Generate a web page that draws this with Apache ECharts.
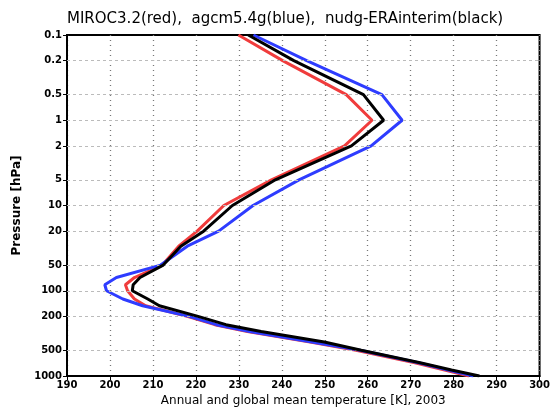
<!DOCTYPE html>
<html>
<head>
<meta charset="utf-8">
<script src="https://cdn.jsdelivr.net/npm/echarts@6/dist/echarts.min.js"></script>
<style>
  html, body { margin: 0; padding: 0; background: #fff; }
  #chart { width: 553px; height: 412px; }
</style>
</head>
<body>
<div id="chart"></div>
<script>
// pressure levels [hPa], top of the atmosphere first
const pressureLevels = [0.1, 0.2, 0.5, 1, 2, 5, 10, 20, 30, 50, 70, 85, 100, 125, 150, 200, 250, 300, 400, 500, 700, 850, 1000]
// MIROC3.2 (red)
const redTemp = [229.9, 240.2, 255.0, 261.0, 254.6, 237.6, 226.5, 220.3, 216.0, 212.2, 205.7, 203.6, 204.1, 205.7, 208.3, 218.0, 224.4, 232.0, 246.6, 257.3, 271.0, 277.9, 283.6]
// agcm5.4g (blue)
const blueTemp = [233.4, 245.8, 263.3, 268.0, 260.8, 244.0, 233.3, 225.3, 218.0, 211.8, 201.5, 198.8, 199.2, 203.0, 207.6, 218.4, 224.8, 232.5, 247.0, 258.2, 271.8, 278.7, 284.6]
// nudg-ERAinterim (black)
const blackTemp = [232.2, 242.8, 259.0, 263.7, 256.2, 238.5, 228.5, 221.8, 216.5, 212.4, 207.0, 205.4, 205.2, 208.8, 211.5, 220.5, 227.0, 235.2, 249.9, 258.5, 272.2, 279.5, 286.0]

const pressureTicks = [0.1, 0.2, 0.5, 1, 2, 5, 10, 20, 50, 100, 200, 500, 1000]
const tempMin = 190
const tempMax = 300

const font = 'DejaVu Sans'
const logTicks = pressureTicks.map(p => Math.log10(p))

// build [T, log10(p)] pairs for a profile
function profile(temps) {
  return temps.map((t, i) => [t, Math.log10(pressureLevels[i])])
}

function tickLabel(v) {
  let best = pressureTicks[0]
  pressureTicks.forEach(p => {
    if (Math.abs(Math.log10(p) - v) < Math.abs(Math.log10(best) - v)) best = p
  })
  return String(best)
}

const chart = echarts.init(document.getElementById('chart'))

const option = {
  animation: false,
  backgroundColor: '#fff',
  title: {
    text: 'MIROC3.2(red),  agcm5.4g(blue),  nudg-ERAinterim(black)',
    left: 62,
    top: 7,
    textStyle: { fontFamily: font, fontSize: 15, fontWeight: 'normal', color: '#000' }
  },
  grid: {
    left: 67,
    right: 9,
    top: 35,
    bottom: 30,
    show: true,
    borderColor: '#000',
    borderWidth: 2,
    backgroundColor: 'transparent'
  },
  xAxis: {
    type: 'value',
    min: tempMin,
    max: tempMax,
    interval: 10,
    name: 'Annual and global mean temperature [K], 2003',
    nameLocation: 'middle',
    nameGap: 19,
    nameTextStyle: { fontFamily: font, fontSize: 12, color: '#000' },
    axisLine: { show: true, onZero: false, lineStyle: { color: '#000', width: 2 } },
    axisTick: { show: true, length: 4, lineStyle: { color: '#000', width: 1 } },
    axisLabel: { fontFamily: font, fontSize: 10, fontWeight: 'bold', color: '#000', margin: 4 },
    splitLine: { show: true, lineStyle: { color: '#777', type: [1, 4], width: 1.3 } }
  },
  yAxis: {
    type: 'value',
    inverse: true,
    min: -1,
    max: 3,
    name: 'Pressure [hPa]',
    nameLocation: 'middle',
    nameGap: 40,
    nameTextStyle: { fontFamily: font, fontSize: 12, fontWeight: 'bold', color: '#000' },
    axisLine: { show: true, onZero: false, lineStyle: { color: '#000', width: 2 } },
    axisTick: { show: true, length: 4, customValues: logTicks, lineStyle: { color: '#000', width: 1 } },
    axisLabel: {
      fontFamily: font, fontSize: 10, fontWeight: 'bold', color: '#000', margin: 5,
      customValues: logTicks,
      formatter: tickLabel
    },
    splitLine: { show: false }
  },
  series: [
    {
      name: 'gridlines',
      type: 'line',
      data: [],
      silent: true,
      z: 1,
      markLine: {
        silent: true,
        symbol: ['none', 'none'],
        label: { show: false },
        lineStyle: { color: '#bbb', type: [3, 3], width: 1 },
        data: logTicks.slice(1, -1).map(v => ({ yAxis: v }))
      }
    },
    {
      name: 'MIROC3.2',
      type: 'line',
      data: profile(redTemp),
      showSymbol: false,
      z: 3,
      lineStyle: { color: '#f03c3c', width: 3 }
    },
    {
      name: 'agcm5.4g',
      type: 'line',
      data: profile(blueTemp),
      showSymbol: false,
      z: 4,
      lineStyle: { color: '#2e3cff', width: 3 }
    },
    {
      name: 'nudg-ERAinterim',
      type: 'line',
      data: profile(blackTemp),
      showSymbol: false,
      z: 5,
      lineStyle: { color: '#000', width: 3 }
    }
  ]
}

chart.setOption(option)
</script>
</body>
</html>
